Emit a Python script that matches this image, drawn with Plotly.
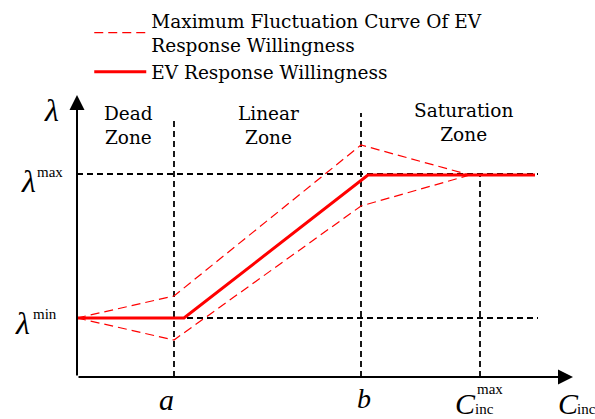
import plotly.graph_objects as go

# ---- data (schematic units) ----
tick_names = ["a", "b", "Cmax"]
tick_x = [0.97, 2.84, 4.03]
lam_names = ["min", "max"]
lam_y = [0.59, 2.03]

will_x = [0.0, 1.07, 2.91, 4.58]
will_y = [0.59, 0.59, 2.02, 2.02]

upper_x = [0.0, 0.97, 2.84, 3.93]
upper_y = [0.59, 0.81, 2.32, 2.02]
lower_x = [0.0, 0.97, 2.84, 3.93]
lower_y = [0.59, 0.37, 1.71, 2.02]

zone_labels = ["Dead<br>Zone", "Linear<br>Zone", "Saturation<br>Zone"]
zone_x = [0.51, 1.91, 3.86]
zone_y = [2.52, 2.52, 2.55]

x_end = 4.96
y_end = 2.82
guide_end = 4.61
a_top = 2.57
b_top = 2.64

SERIF = "DejaVu Serif"
MATH = "Liberation Serif"
RED = "#ff0000"

fig = go.Figure()

fig.add_trace(go.Scatter(
    x=upper_x + [None] + lower_x, y=upper_y + [None] + lower_y,
    mode="lines", name="Maximum Fluctuation Curve Of EV<br>Response Willingness",
    line=dict(color=RED, width=1.2, dash="9px,5px"), hoverinfo="skip"))
fig.add_trace(go.Scatter(
    x=will_x, y=will_y, mode="lines", name="EV Response Willingness",
    line=dict(color=RED, width=3), hoverinfo="skip"))

shapes = []
dash_black = dict(color="black", width=1.8, dash="6px,4px")
# horizontal guides
for ly in lam_y:
    shapes.append(dict(type="line", xref="x", yref="y", x0=0, x1=guide_end, y0=ly, y1=ly,
                       line=dash_black, layer="below"))
# vertical guides
tops = [a_top, b_top, lam_y[1]]
for tx, tp in zip(tick_x, tops):
    shapes.append(dict(type="line", xref="x", yref="y", x0=tx, x1=tx, y0=0, y1=tp,
                       line=dash_black, layer="below"))

annotations = []
# axes with arrowheads
annotations.append(dict(x=x_end, y=0, ax=0, ay=0, xref="x", yref="y", axref="x", ayref="y",
                        showarrow=True, arrowhead=2, arrowsize=1.5, arrowwidth=2,
                        arrowcolor="black", text=""))
annotations.append(dict(x=0, y=y_end, ax=0, ay=0, xref="x", yref="y", axref="x", ayref="y",
                        showarrow=True, arrowhead=2, arrowsize=1.5, arrowwidth=2,
                        arrowcolor="black", text=""))

def txt(x, y, t, size, family=SERIF, xanchor="center", yanchor="middle"):
    annotations.append(dict(x=x, y=y, xref="x", yref="y", text=t, showarrow=False,
                            font=dict(family=family, size=size, color="black"),
                            xanchor=xanchor, yanchor=yanchor))

for zl, zx, zy in zip(zone_labels, zone_x, zone_y):
    txt(zx, zy, zl, 18.5)

# y-axis labels
txt(-0.26, 2.67, "<i>λ</i>", 32, MATH)
txt(-0.49, lam_y[1] - 0.07, "<i>λ</i>", 32, MATH)
txt(-0.27, lam_y[1] + 0.02, "max", 15, MATH)
txt(-0.55, lam_y[0] - 0.05, "<i>λ</i>", 32, MATH)
txt(-0.32, lam_y[0] + 0.04, "min", 15, MATH)

# x-axis labels
txt(tick_x[0] - 0.08, -0.22, "<i>a</i>", 30, MATH)
txt(tick_x[1] + 0.03, -0.21, "<i>b</i>", 28, MATH)
txt(tick_x[2] - 0.15, -0.26, "<i>C</i>", 30, MATH)
txt(tick_x[2] + 0.10, -0.12, "max", 15, MATH)
txt(tick_x[2] + 0.04, -0.32, "inc", 15, MATH)
txt(x_end - 0.05, -0.26, "<i>C</i>", 30, MATH)
txt(x_end + 0.13, -0.32, "inc", 15, MATH)

fig.update_layout(
    width=595, height=419,
    margin=dict(l=0, r=0, t=0, b=0),
    paper_bgcolor="white", plot_bgcolor="white",
    xaxis=dict(range=[-0.77, 5.18], visible=False, fixedrange=True),
    yaxis=dict(range=[-0.42, 3.77], visible=False, fixedrange=True),
    shapes=shapes, annotations=annotations,
    showlegend=True,
    legend=dict(x=0.15, y=0.995, xanchor="left", yanchor="top",
                font=dict(family=SERIF, size=18.5, color="black"),
                bgcolor="rgba(0,0,0,0)", itemwidth=52, tracegroupgap=0),
)

fig.write_html("out.html")
